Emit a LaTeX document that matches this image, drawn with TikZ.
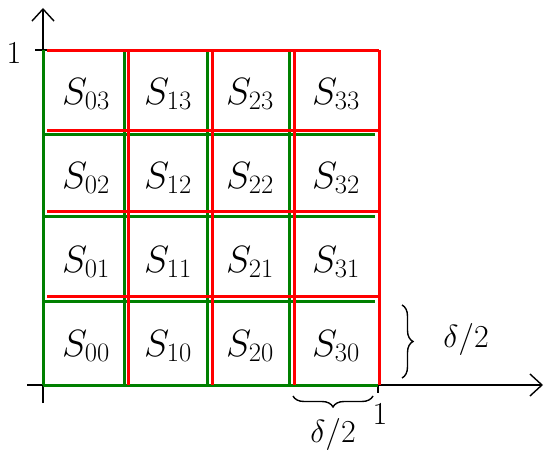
\RequirePackage{fix-cm}
\documentclass[tikz,border=0pt]{standalone}
\usetikzlibrary{arrows.meta,decorations.pathreplacing}
\definecolor{gr}{RGB}{0,128,0}
\definecolor{rd}{RGB}{255,0,0}
\begin{document}
\begin{tikzpicture}[x=1pt,y=-1pt,
  gline/.style={draw=gr,line width=3pt},
  rline/.style={draw=rd,line width=3pt},
  axis/.style={draw=black,line width=1.4pt},
  arrowtip/.style={-{Straight Barb[length=12pt,width=22pt,line width=1.4pt]}},
  cell/.style={font=\fontsize{38}{42}\selectfont},
  lbl/.style={font=\fontsize{32}{36}\selectfont},
  brc/.style={draw=black,line width=1.4pt,decorate,decoration={brace,amplitude=11pt}}]
\useasboundingbox (0,0) rectangle (544,457);
% axes
\coordinate (ybot) at (43,403);
\coordinate (ytop) at (43,8);
\coordinate (xl) at (27,385);
\coordinate (xr) at (543,385);
\draw[axis,arrowtip] (ybot) -- (ytop);
\draw[axis,arrowtip] (xl) -- (xr);
\coordinate (t1a) at (35,50); \coordinate (t1b) at (50,50);
\draw[axis] (t1a) -- (t1b);
\coordinate (t2a) at (378,385); \coordinate (t2b) at (378,393);
\draw[axis] (t2a) -- (t2b);
% green grid
\foreach \x in {43,124,207,289}{\draw[gline] (\x,50) -- (\x,385);}
\foreach \y in {135,217,302}{\draw[gline] (43,\y) -- (375,\y);}
\draw[gline] (43,385) -- (378,385);
% red grid
\foreach \x in {128,212,294,379}{\draw[rline] (\x,50) -- (\x,385);}
\foreach \y in {51,131,212,297}{\draw[rline] (47,\y) -- (379,\y);}
% labels
\foreach \i/\cx in {0/86,1/168,2/250,3/336}{
  \foreach \j/\cy in {0/346,1/262,2/178,3/94}{
    \node[cell] (s\i\j) at (\cx,\cy) {$S_{\i\j}$};
  }
}
% axis labels
\node[lbl] (one-y) at (14,53) {1};
\node[lbl] (one-x) at (380,414) {1};
% braces
\coordinate (br1a) at (402,305); \coordinate (br1b) at (402,378);
\draw[brc] (br1a) -- (br1b);
\node[lbl] (d1) at (466,340) {$\delta/2$};
\coordinate (br2a) at (373,396); \coordinate (br2b) at (293,396);
\draw[brc] (br2a) -- (br2b);
\node[lbl] (d2) at (333,434) {$\delta/2$};
\end{tikzpicture}
\end{document}
